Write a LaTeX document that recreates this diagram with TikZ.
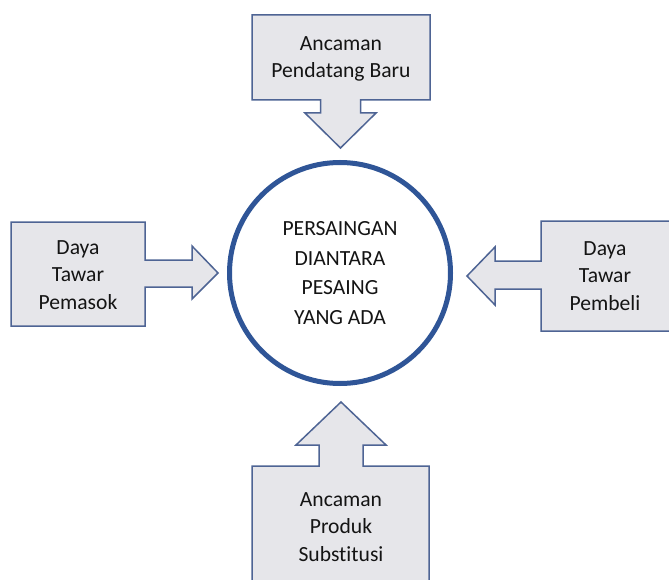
\documentclass[tikz,border=0pt]{standalone}
\usepackage{fontspec}
\setmainfont{Carlito}[Ligatures={NoCommon}]
\definecolor{edgeblue}{HTML}{4E6494}
\definecolor{ringblue}{HTML}{2F5597}
\definecolor{panelfill}{HTML}{E6E6EA}
\definecolor{inktext}{HTML}{141414}
\begin{document}
\begin{tikzpicture}[x=1pt,y=-1pt,
  force/.style={draw=edgeblue,fill=panelfill,line width=1.5pt,line join=miter},
  label/.style={align=center,font=\fontsize{21.6}{27.5}\selectfont,text=inktext,inner sep=0pt},
  core/.style={circle,draw=ringblue,line width=5pt,minimum size=221pt,inner sep=0pt,
    align=center,font=\fontsize{21.6}{29.5}\selectfont,text=inktext}]
\useasboundingbox (0,0) rectangle (669,580);
\fill[white] (0,0) rectangle (669,580);

% central rivalry circle
\node[core] (rivalry) at (340,273) {PERSAINGAN\\DIANTARA\\PESAING\\YANG ADA};

% threat of new entrants (top, pointing down)
\draw[force] (252,15) -- (430,15) -- (430,100) -- (360.5,100) -- (360.5,113)
  -- (376,113) -- (340.5,148) -- (305,113) -- (320.5,113) -- (320.5,100)
  -- (252,100) -- cycle;
\node[label] (entrants) at (341,59) {Ancaman\\Pendatang Baru};

% supplier power (left, pointing right)
\draw[force] (11,222) -- (145,222) -- (145,260) -- (192,260) -- (192,246)
  -- (218,273) -- (192,299) -- (192,287) -- (145,287) -- (145,326)
  -- (11,326) -- cycle;
\node[label] (suppliers) at (78,275) {Daya\\Tawar\\Pemasok};

% buyer power (right, pointing left)
\draw[force] (672,221) -- (541,221) -- (541,261) -- (495,261) -- (495,247)
  -- (467,276) -- (495,305) -- (495,289) -- (541,289) -- (541,331)
  -- (672,331) -- cycle;
\node[label] (buyers) at (605,276) {Daya\\Tawar\\Pembeli};

% threat of substitutes (bottom, pointing up)
\draw[force] (252,590) -- (252,466) -- (319,466) -- (319,445) -- (296,445)
  -- (341,402) -- (386,445) -- (363,445) -- (363,466) -- (429,466)
  -- (429,590) -- cycle;
\node[label] (substitutes) at (341,527) {Ancaman\\Produk\\Substitusi};
\end{tikzpicture}
\end{document}
